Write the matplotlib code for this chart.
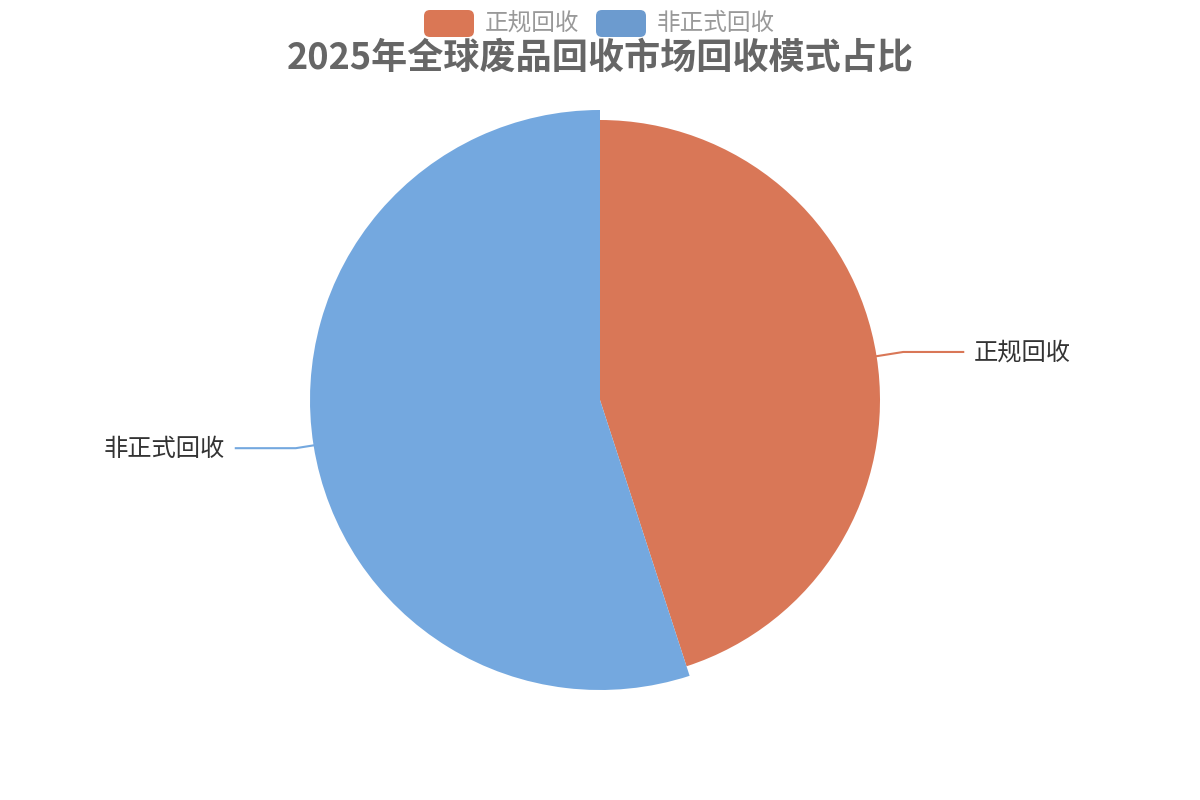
import numpy as np
import matplotlib
matplotlib.use("Agg")
import matplotlib.pyplot as plt
from matplotlib.patches import FancyBboxPatch

plt.rcParams['font.family'] = ['Noto Sans CJK SC', 'DejaVu Sans']

# Daten
titel = "2025年全球废品回收市场回收模式占比"
kategorien = ["正规回收", "非正式回收"]
werte = [45, 55]
farben = ["#D97757", "#74A8DF"]
legende_farben = ["#DA7755", "#6C9BCF"]

fig = plt.figure(figsize=(12, 8), dpi=100)
ax = fig.add_axes([0, 0, 1, 1])

mitte = (600, 400)
wedges, _ = ax.pie(werte, colors=farben, startangle=90, counterclock=False,
                   radius=280, center=mitte, frame=True)
# zweites Segment leicht hervorgehoben (wie im Original)
wedges[1].set_radius(290)
ax.set_xlim(0, 1200)
ax.set_ylim(0, 800)
ax.set_aspect('equal')
ax.axis('off')

# Beschriftungen mit Führungslinien
laengen = [27, 18]
for w, name, farbe, L in zip(wedges, kategorien, farben, laengen):
    ang = np.deg2rad((w.theta1 + w.theta2) / 2)
    r = w.r
    x0 = mitte[0] + r * np.cos(ang)
    y0 = mitte[1] + r * np.sin(ang)
    x1 = mitte[0] + (r + L) * np.cos(ang)
    y1 = mitte[1] + (r + L) * np.sin(ang)
    rechts = np.cos(ang) > 0
    s = 1 if rechts else -1
    x2 = x1 + s * 60
    ax.plot([x0, x1, x2], [y0, y1, y1], color=farbe, lw=1.5)
    ax.text(x2 + s * 11, y1 - 0.5, name, ha='left' if rechts else 'right',
            va='center', fontsize=17.5, color='#333333')

# Titel
ax.text(600, 742, titel, ha='center', va='center', fontsize=26,
        fontweight='bold', color='#666666')

# Legende
lx = [424, 596]
for x, name, farbe in zip(lx, kategorien, legende_farben):
    box = FancyBboxPatch((x, 763), 50, 27, boxstyle="round,pad=0,rounding_size=6",
                         facecolor=farbe, edgecolor='none')
    ax.add_patch(box)
    ax.text(x + 61, 777, name, ha='left', va='center', fontsize=17, color='#999999')

plt.savefig("out.png", dpi=100, facecolor='white')
